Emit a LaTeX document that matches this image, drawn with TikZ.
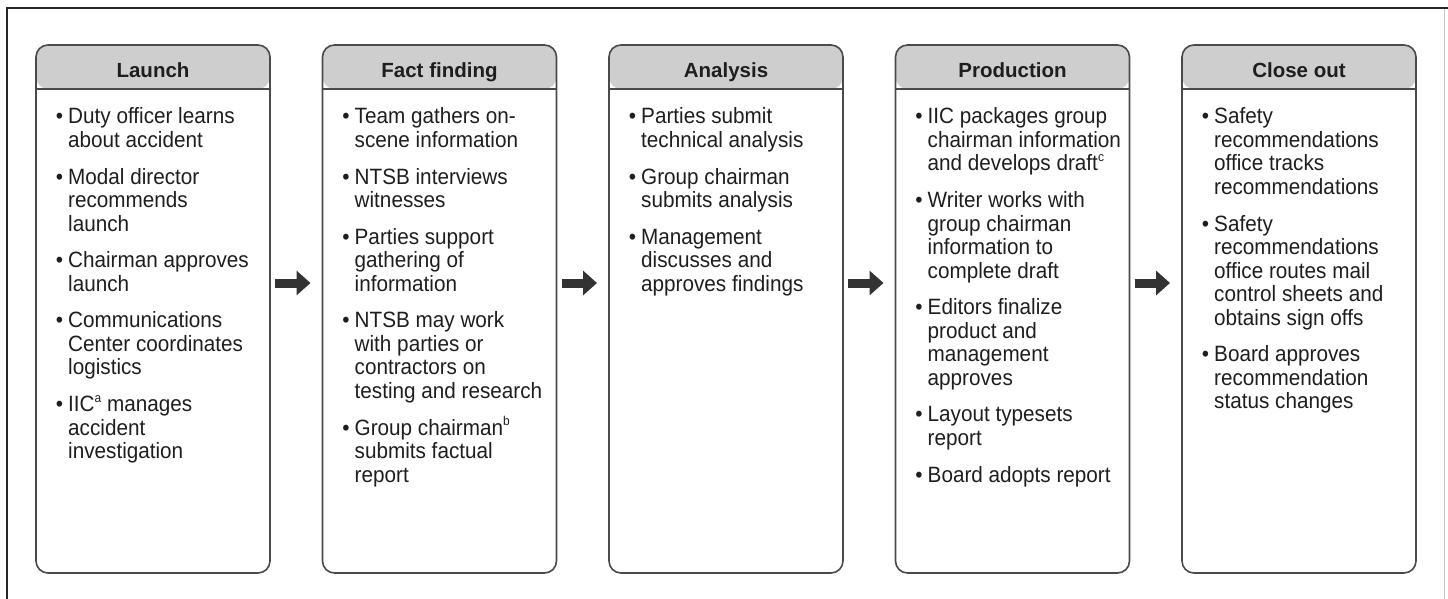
\documentclass[tikz,border=0pt]{standalone}
\usepackage{fontspec}
\usepackage{graphicx}
\setmainfont{Liberation Sans}
\usetikzlibrary{arrows.meta}

\definecolor{edge}{HTML}{4A4A4A}
\definecolor{headfill}{HTML}{CECECE}
\definecolor{ink}{HTML}{1E1E1E}
\definecolor{arrowink}{HTML}{333333}

% small raised note letter
\newcommand\notemark[1]{\raisebox{0.42em}{\fontsize{12}{12}\selectfont #1}}
% bulleted entries: first one, then the following ones with extra space
\newcommand\firstentry{\noindent\llap{\textbullet\hspace{5pt}}}
\newcommand\entry{\par\vspace{12.3pt}\noindent\llap{\textbullet\hspace{5pt}}}
% a list block, set slightly taller than wide
\newcommand\entrylist[1]{\scalebox{1}[1.07]{\parbox[t]{205pt}{%
  \raggedright\fontsize{20.7}{21.96}\selectfont #1\par}}}

\tikzset{
  stage/.style={draw=edge, line width=1.6pt, rounded corners=12pt,
    minimum width=234pt, minimum height=528pt, inner sep=0pt, outer sep=0pt,
    anchor=north west,
    path picture={
      \fill[headfill] (path picture bounding box.north west)
        rectangle ([yshift=-44pt]path picture bounding box.north east);
      \draw[edge, line width=1.6pt]
        ([yshift=-44pt]path picture bounding box.north west)
        -- ([yshift=-44pt]path picture bounding box.north east);
    }},
  stagehead/.style={inner sep=0pt, outer sep=0pt, anchor=base, text=ink,
    font=\fontsize{20.5}{24}\selectfont\bfseries},
  stagelist/.style={anchor=base west, inner sep=0pt, text=ink},
  flow/.style={draw=arrowink, line width=9pt,
    -{Triangle[length=14pt,width=24pt]}, shorten <=5pt, shorten >=12pt},
  frameline/.style={draw=black!85, line width=2pt},
}

\begin{document}
\begin{tikzpicture}[x=1pt, y=-1pt]
\useasboundingbox (0,0) rectangle (1448,599);

% page frame
\draw[frameline] (6,8) -- (1448,8);
\draw[frameline] (7,7) -- (7,599);
\draw[black!22, line width=1pt] (1444,9) -- (1444,599);

% stage boxes with shaded title bars
\foreach \i/\x/\title in {1/36/Launch, 2/322.5/Fact finding, 3/609/Analysis,
                          4/895.5/Production, 5/1182/Close out}{
  \node[stage] (b\i) at (\x,45) {};
  \node[stagehead] (h\i) at ([yshift=-32.5pt]b\i.north) {\title};
}

% stage contents
\node[stagelist] (t1) at ([shift={(32pt,-79pt)}]b1.north west) {\entrylist{%
\firstentry Duty officer learns\\about accident
\entry Modal director\\recommends\\launch
\entry Chairman approves\\launch
\entry Communications\\Center coordinates\\logistics
\entry IIC\notemark{a} manages\\accident\\investigation}};

\node[stagelist] (t2) at ([shift={(32pt,-79pt)}]b2.north west) {\entrylist{%
\firstentry Team gathers on-\\scene information
\entry NTSB interviews\\witnesses
\entry Parties support\\gathering of\\information
\entry NTSB may work\\with parties or\\contractors on\\testing and research
\entry Group chairman\notemark{b}\\submits factual\\report}};

\node[stagelist] (t3) at ([shift={(32pt,-79pt)}]b3.north west) {\entrylist{%
\firstentry Parties submit\\technical analysis
\entry Group chairman\\submits analysis
\entry Management\\discusses and\\approves findings}};

\node[stagelist] (t4) at ([shift={(32pt,-79pt)}]b4.north west) {\entrylist{%
\firstentry IIC packages group\\chairman information\\and develops draft\notemark{c}
\entry Writer works with\\group chairman\\information to\\complete draft
\entry Editors finalize\\product and\\management\\approves
\entry Layout typesets\\report
\entry Board adopts report}};

\node[stagelist] (t5) at ([shift={(32pt,-79pt)}]b5.north west) {\entrylist{%
\firstentry Safety\\recommendations\\office tracks\\recommendations
\entry Safety\\recommendations\\office routes mail\\control sheets and\\obtains sign offs
\entry Board approves\\recommendation\\status changes}};

% flow arrows between stages
\coordinate (level) at (0,283);
\foreach \a/\b in {1/2, 2/3, 3/4, 4/5}
  \draw[flow] (b\a.east |- level) -- (b\b.west |- level);
\end{tikzpicture}
\end{document}
